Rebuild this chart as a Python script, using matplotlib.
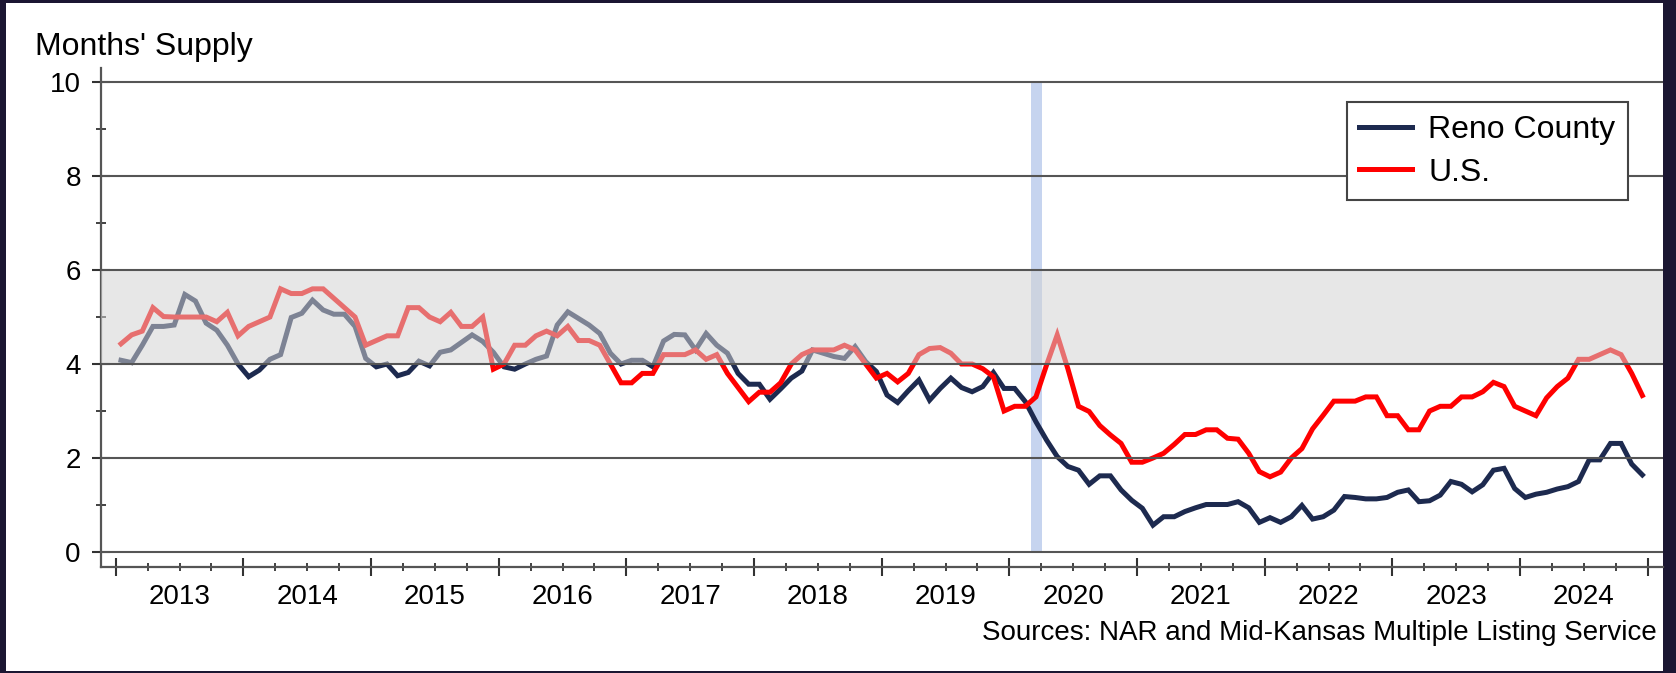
import numpy as np
import matplotlib
matplotlib.use("Agg")
import matplotlib.pyplot as plt
from matplotlib.patches import Rectangle
from matplotlib.ticker import FixedLocator, NullFormatter
import matplotlib.transforms as mtransforms

plt.rcParams['font.family'] = ['Liberation Sans', 'DejaVu Sans']

# ---------------- data (monthly, Jan 2013 - Dec 2024) ----------------
start_year = 2013
reno = [4.08, 4.03, 4.40, 4.80, 4.80, 4.83, 5.48, 5.34, 4.87, 4.72, 4.40, 4.00,
        3.73, 3.87, 4.10, 4.20, 4.99, 5.08, 5.36, 5.15, 5.06, 5.06, 4.80, 4.12,
        3.94, 4.00, 3.75, 3.82, 4.06, 3.96, 4.25, 4.30, 4.46, 4.62, 4.48, 4.25,
        3.94, 3.89, 4.00, 4.10, 4.17, 4.83, 5.11, 4.97, 4.83, 4.65, 4.23, 4.00,
        4.08, 4.08, 3.94, 4.49, 4.63, 4.62, 4.30, 4.65, 4.40, 4.23, 3.80, 3.57,
        3.57, 3.25, 3.47, 3.70, 3.85, 4.30, 4.23, 4.16, 4.12, 4.37, 4.05, 3.84,
        3.34, 3.18, 3.43, 3.66, 3.23, 3.48, 3.70, 3.50, 3.41, 3.52, 3.82, 3.48,
        3.48, 3.20, 2.77, 2.38, 2.03, 1.82, 1.74, 1.44, 1.62, 1.62, 1.32, 1.10,
        0.93, 0.57, 0.75, 0.75, 0.86, 0.94, 1.01, 1.01, 1.01, 1.07, 0.94, 0.63,
        0.73, 0.63, 0.75, 0.99, 0.70, 0.75, 0.89, 1.18, 1.16, 1.13, 1.13, 1.16,
        1.27, 1.32, 1.07, 1.09, 1.21, 1.50, 1.44, 1.28, 1.43, 1.74, 1.78, 1.35,
        1.16, 1.23, 1.27, 1.34, 1.39, 1.50, 1.96, 1.96, 2.31, 2.31, 1.87, 1.64]
us = [4.43, 4.62, 4.70, 5.20, 5.01, 5.00, 5.00, 5.00, 5.00, 4.90, 5.10, 4.60,
      4.80, 4.90, 5.00, 5.60, 5.50, 5.50, 5.60, 5.60, 5.40, 5.20, 5.00, 4.40,
      4.50, 4.60, 4.60, 5.20, 5.20, 5.00, 4.90, 5.10, 4.80, 4.80, 5.00, 3.89,
      4.00, 4.40, 4.40, 4.60, 4.70, 4.60, 4.80, 4.50, 4.50, 4.40, 4.00, 3.60,
      3.60, 3.80, 3.80, 4.20, 4.20, 4.20, 4.30, 4.10, 4.20, 3.80, 3.50, 3.20,
      3.40, 3.40, 3.60, 4.00, 4.20, 4.30, 4.30, 4.30, 4.40, 4.30, 4.00, 3.70,
      3.80, 3.62, 3.80, 4.20, 4.33, 4.35, 4.23, 4.00, 4.00, 3.90, 3.73, 3.00,
      3.10, 3.10, 3.30, 3.98, 4.62, 3.90, 3.10, 2.99, 2.69, 2.49, 2.31, 1.91,
      1.91, 2.00, 2.10, 2.29, 2.50, 2.50, 2.60, 2.60, 2.42, 2.40, 2.10, 1.71,
      1.60, 1.70, 2.00, 2.20, 2.62, 2.91, 3.21, 3.21, 3.21, 3.30, 3.30, 2.90,
      2.90, 2.60, 2.60, 3.00, 3.10, 3.10, 3.30, 3.30, 3.41, 3.61, 3.52, 3.10,
      3.00, 2.90, 3.28, 3.52, 3.70, 4.10, 4.10, 4.20, 4.30, 4.20, 3.80, 3.33]
years = [2013, 2014, 2015, 2016, 2017, 2018, 2019, 2020, 2021, 2022, 2023, 2024]
yticks = [0, 2, 4, 6, 8, 10]
balanced_band = (4, 6)
recession = (2020 + 2.03 / 12, 2020 + 3.09 / 12)
series_names = ["Reno County", "U.S."]
y_title = "Months' Supply"
source_text = "Sources: NAR and Mid-Kansas Multiple Listing Service"

x = start_year + (np.arange(len(reno)) + 0.5) / 12.0

# ---------------- figure ----------------
W, H = 1676, 673
fig = plt.figure(figsize=(W / 100, H / 100), dpi=100)
fig.patch.set_facecolor('#1b1632')
bg = Rectangle((6 / W, 2 / H), (1663 - 6) / W, (670 - 2) / H,
               transform=fig.transFigure, facecolor='white',
               edgecolor='none', zorder=-10)
fig.add_artist(bg)

ax = fig.add_axes([101 / W, (H - 567) / H, 1562 / W, 499 / H])
ax.set_zorder(1)
ax.set_facecolor('none')
ax.set_xlim(2012.885, 2025.12)
ax.set_ylim(-0.32, 10.3)

navy = '#1d2a4f'
red = '#ff0000'
FS = 20

ax.fill_betweenx([yticks[0], yticks[-1]], recession[0], recession[1],
                 color='#c6d4ef', lw=0, zorder=1)
ax.plot(x, reno, color=navy, lw=3.6, zorder=2, label=series_names[0],
        solid_joinstyle='miter')
ax.plot(x, us, color=red, lw=3.6, zorder=2.1, label=series_names[1],
        solid_joinstyle='miter')
ax.axhspan(*balanced_band, color='#d3d3d3', alpha=0.53, lw=0, zorder=3)
for yv in yticks:
    ax.axhline(yv, color='#555555', lw=1.5, zorder=4)

for s in ['top', 'right']:
    ax.spines[s].set_visible(False)
for s in ['left', 'bottom']:
    ax.spines[s].set_color('#555555')
    ax.spines[s].set_linewidth(1.6)

ax.set_yticks(yticks)
ax.yaxis.set_minor_locator(FixedLocator([1, 3, 5, 7, 9]))
ax.tick_params(axis='y', which='major', direction='inout', length=13, width=1.5,
               color='#333333', labelsize=FS, pad=8)
ax.tick_params(axis='y', which='minor', direction='inout', length=6.5, width=1.3,
               color='#333333')

ax.set_xticks(list(years) + [years[-1] + 1])
ax.xaxis.set_major_formatter(NullFormatter())
ax.xaxis.set_minor_locator(FixedLocator([y + q / 4 for y in years for q in (1, 2, 3)]))
ax.tick_params(axis='x', which='major', direction='inout', length=13, width=1.5,
               color='#333333')
ax.tick_params(axis='x', which='minor', direction='inout', length=6, width=1.3,
               color='#333333')

trans = mtransforms.blended_transform_factory(ax.transData, fig.transFigure)
for yr in years:
    ax.text(yr + 0.5, (H - 597) / H, str(yr), transform=trans, ha='center',
            va='center', fontsize=FS, color='black')

fig.text(35 / W, (H - 47) / H, y_title, fontsize=23, ha='left', va='center')
fig.text(1657 / W, (H - 633) / H, source_text, fontsize=FS, ha='right', va='center')

leg = ax.legend(loc='upper right', bbox_to_anchor=(1628 / W, (H - 102) / H),
                bbox_transform=fig.transFigure, fontsize=23, frameon=True,
                fancybox=False, framealpha=1, edgecolor='#444444',
                handlelength=1.65, handletextpad=0.5, labelspacing=0.4,
                borderpad=0.4, borderaxespad=0)
leg.get_frame().set_linewidth(1.5)
leg.set_zorder(10)

fig.savefig('out.png', dpi=100, facecolor=fig.get_facecolor())
